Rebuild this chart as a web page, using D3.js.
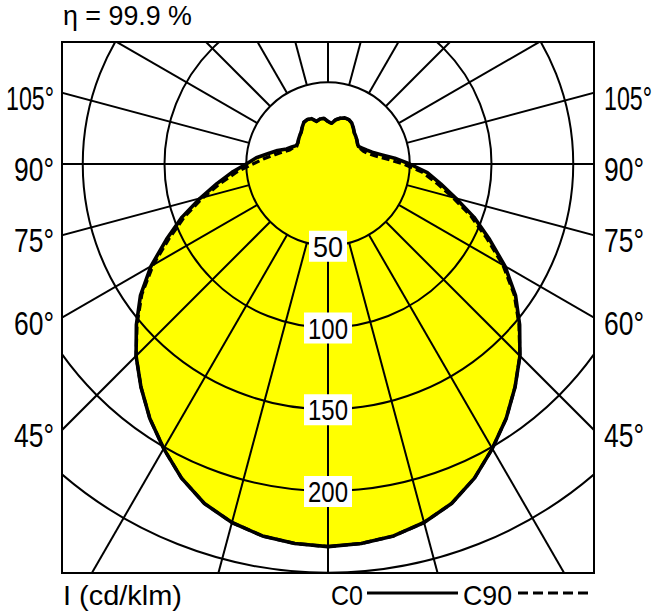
<!DOCTYPE html>
<html>
<head>
<meta charset="utf-8">
<script src="https://cdn.jsdelivr.net/npm/d3@7"></script>
<style>
  html, body { margin: 0; padding: 0; background: #fff; }
  svg { display: block; }
  text { font-family: "Liberation Sans", Arial, sans-serif; fill: #000; }
</style>
</head>
<body>
<svg id="chart" width="660" height="614"></svg>
<script>
// ---------------- data ----------------
const gammaDeg = [0,5,10,15,20,25,30,35,40,45,50,55,60,65,70,75,80,85,90,95,100,105,110,115,120,125,130,135,140,145,150,155,160,165,170,175,180];
// C0 plane (right half) in cd/klm
const C0   = [234,233,231,227,221,212,201,190,178,166,153,140,125,109,95,81,70,61,50,41,33,28,25,23,21.5,22,23,24,25,27,29,30,30,29,27.5,25,26];
// C180 plane (left half)
const C180 = [234,233,231,227,221,212,201,190,178,166,153,140,125,109,95,81,69,59,50,44,37,32,27,24.5,22.5,22.5,23.5,24.5,25.5,27.5,29.5,30,29.5,27,28,28,26];
// C90 plane (right half, dashed)
const C90  = [234,233,231,227,221,212,201,190,178,166,152.5,139,123.5,107,93,79,67.5,58,46,36,29,25,23,22,21,22,23,24,25,27,29,30,30,29,27.5,25,26];
// C270 plane (left half, dashed)
const C270 = [234,233,231,227,221,212,201,190,178,166,152.5,139,123.5,107,93,79,66.5,56,46,39,33,28.5,25,23.5,22,22.5,23.5,24.5,25.5,27.5,29.5,30,29.5,27,28,28,26];

const ringValues = [50,100,150,200,250];
const ringLabels = ["50","100","150","200"];
const spokeAngles = [0,15,30,45,60,75,90,105,120,135,150,165,180,195,210,225,240,255,270,285,300,315,330,345];
const sideTicks = [45,60,75,90,105];
const titleText = "η = 99.9 %";
const unitText = "I (cd/klm)";
const legendNames = ["C0","C90"];

// ---------------- layout ----------------
const frame = {x: 62, y: 42, w: 532, h: 531};
const cx = 328, cy = 164;
const r = d3.scaleLinear().domain([0, 250]).range([0, 408.75]);

const svg = d3.select("#chart");
svg.append("rect").attr("width", 660).attr("height", 614).attr("fill", "#fff");

svg.append("clipPath").attr("id", "clip")
  .append("rect").attr("x", frame.x).attr("y", frame.y).attr("width", frame.w).attr("height", frame.h);

const plot = svg.append("g").attr("clip-path", "url(#clip)");
const g = plot.append("g").attr("transform", `translate(${cx},${cy})`);

const rad = d => d * Math.PI / 180;

function planePoints(right, left) {
  const pts = [];
  gammaDeg.forEach((gd, i) => pts.push([Math.PI - rad(gd), r(right[i])]));
  for (let i = gammaDeg.length - 2; i >= 1; i--) pts.push([Math.PI + rad(gammaDeg[i]), r(left[i])]);
  return pts;
}
const radial = d3.lineRadial().angle(d => d[0]).radius(d => d[1]).curve(d3.curveLinearClosed);

const solidPts = planePoints(C0, C180);
const dashPts = planePoints(C90, C270);

// text helper: condensed look via horizontal scaling to a target width
function label(parent, x, y, txt, size, width, anchor) {
  const t = parent.append("text").attr("x", 0).attr("y", 0)
    .attr("text-anchor", anchor || "start")
    .style("font-size", size + "px").text(txt);
  const natural = t.node().getComputedTextLength();
  const s = width / natural;
  t.attr("transform", `translate(${x},${y}) scale(${s},1)`);
  return t;
}

// fill
g.append("path").attr("d", radial(solidPts)).attr("fill", "#ffff00").attr("stroke", "none");
g.append("path").attr("d", radial(dashPts)).attr("fill", "#ffff00").attr("stroke", "none");

// rings
g.selectAll("circle.ring").data(ringValues).enter().append("circle")
  .attr("class", "ring").attr("r", d => r(d))
  .attr("fill", "none").attr("stroke", "#000").attr("stroke-width", 2);

// spokes
g.selectAll("line.spoke").data(spokeAngles).enter().append("line")
  .attr("class", "spoke")
  .attr("x1", d => r(50) * Math.sin(rad(d)))
  .attr("y1", d => r(50) * Math.cos(rad(d)))
  .attr("x2", d => r(330) * Math.sin(rad(d)))
  .attr("y2", d => r(330) * Math.cos(rad(d)))
  .attr("stroke", "#000").attr("stroke-width", 2);

// curves
g.append("path").attr("d", radial(dashPts)).attr("fill", "none")
  .attr("stroke", "#000").attr("stroke-width", 3.2).attr("stroke-dasharray", "8,4");
g.append("path").attr("d", radial(solidPts)).attr("fill", "none")
  .attr("stroke", "#000").attr("stroke-width", 3.6).attr("stroke-linejoin", "round");

// ring labels with white boxes
ringLabels.forEach(d => {
  const sel = g.append("g");
  const y = r(+d);
  const w = d.length === 2 ? 30 : 40;
  sel.append("rect").attr("x", -w / 2 - 4).attr("y", y - 15).attr("width", w + 8).attr("height", 31)
    .attr("fill", "#fff");
  label(sel, 0, y + 11, d, 29, w, "middle");
});

// frame
svg.append("rect").attr("x", frame.x).attr("y", frame.y).attr("width", frame.w).attr("height", frame.h)
  .attr("fill", "none").attr("stroke", "#000").attr("stroke-width", 2);

// side angle labels
const dxEdge = cx - frame.x;
sideTicks.forEach(a => {
  const yy = cy + dxEdge * Math.cos(rad(a)) / Math.sin(rad(a));
  const w = a >= 100 ? 48 : 40;
  label(svg, 54, yy + 17, a + "°", 33, w, "end");
  label(svg, 604, yy + 17, a + "°", 33, w, "start");
});

// title
label(svg, 63, 25, titleText, 28, 129);
// unit
label(svg, 63, 605, unitText, 28, 119);

// legend
label(svg, 331, 605, legendNames[0], 28, 32);
svg.append("line").attr("x1", 367).attr("x2", 458).attr("y1", 593).attr("y2", 593)
  .attr("stroke", "#000").attr("stroke-width", 3.2);
label(svg, 463, 605, legendNames[1], 28, 49);
svg.append("line").attr("x1", 518).attr("x2", 590).attr("y1", 593).attr("y2", 593)
  .attr("stroke", "#000").attr("stroke-width", 3.2).attr("stroke-dasharray", "10,5");
</script>
</body>
</html>
